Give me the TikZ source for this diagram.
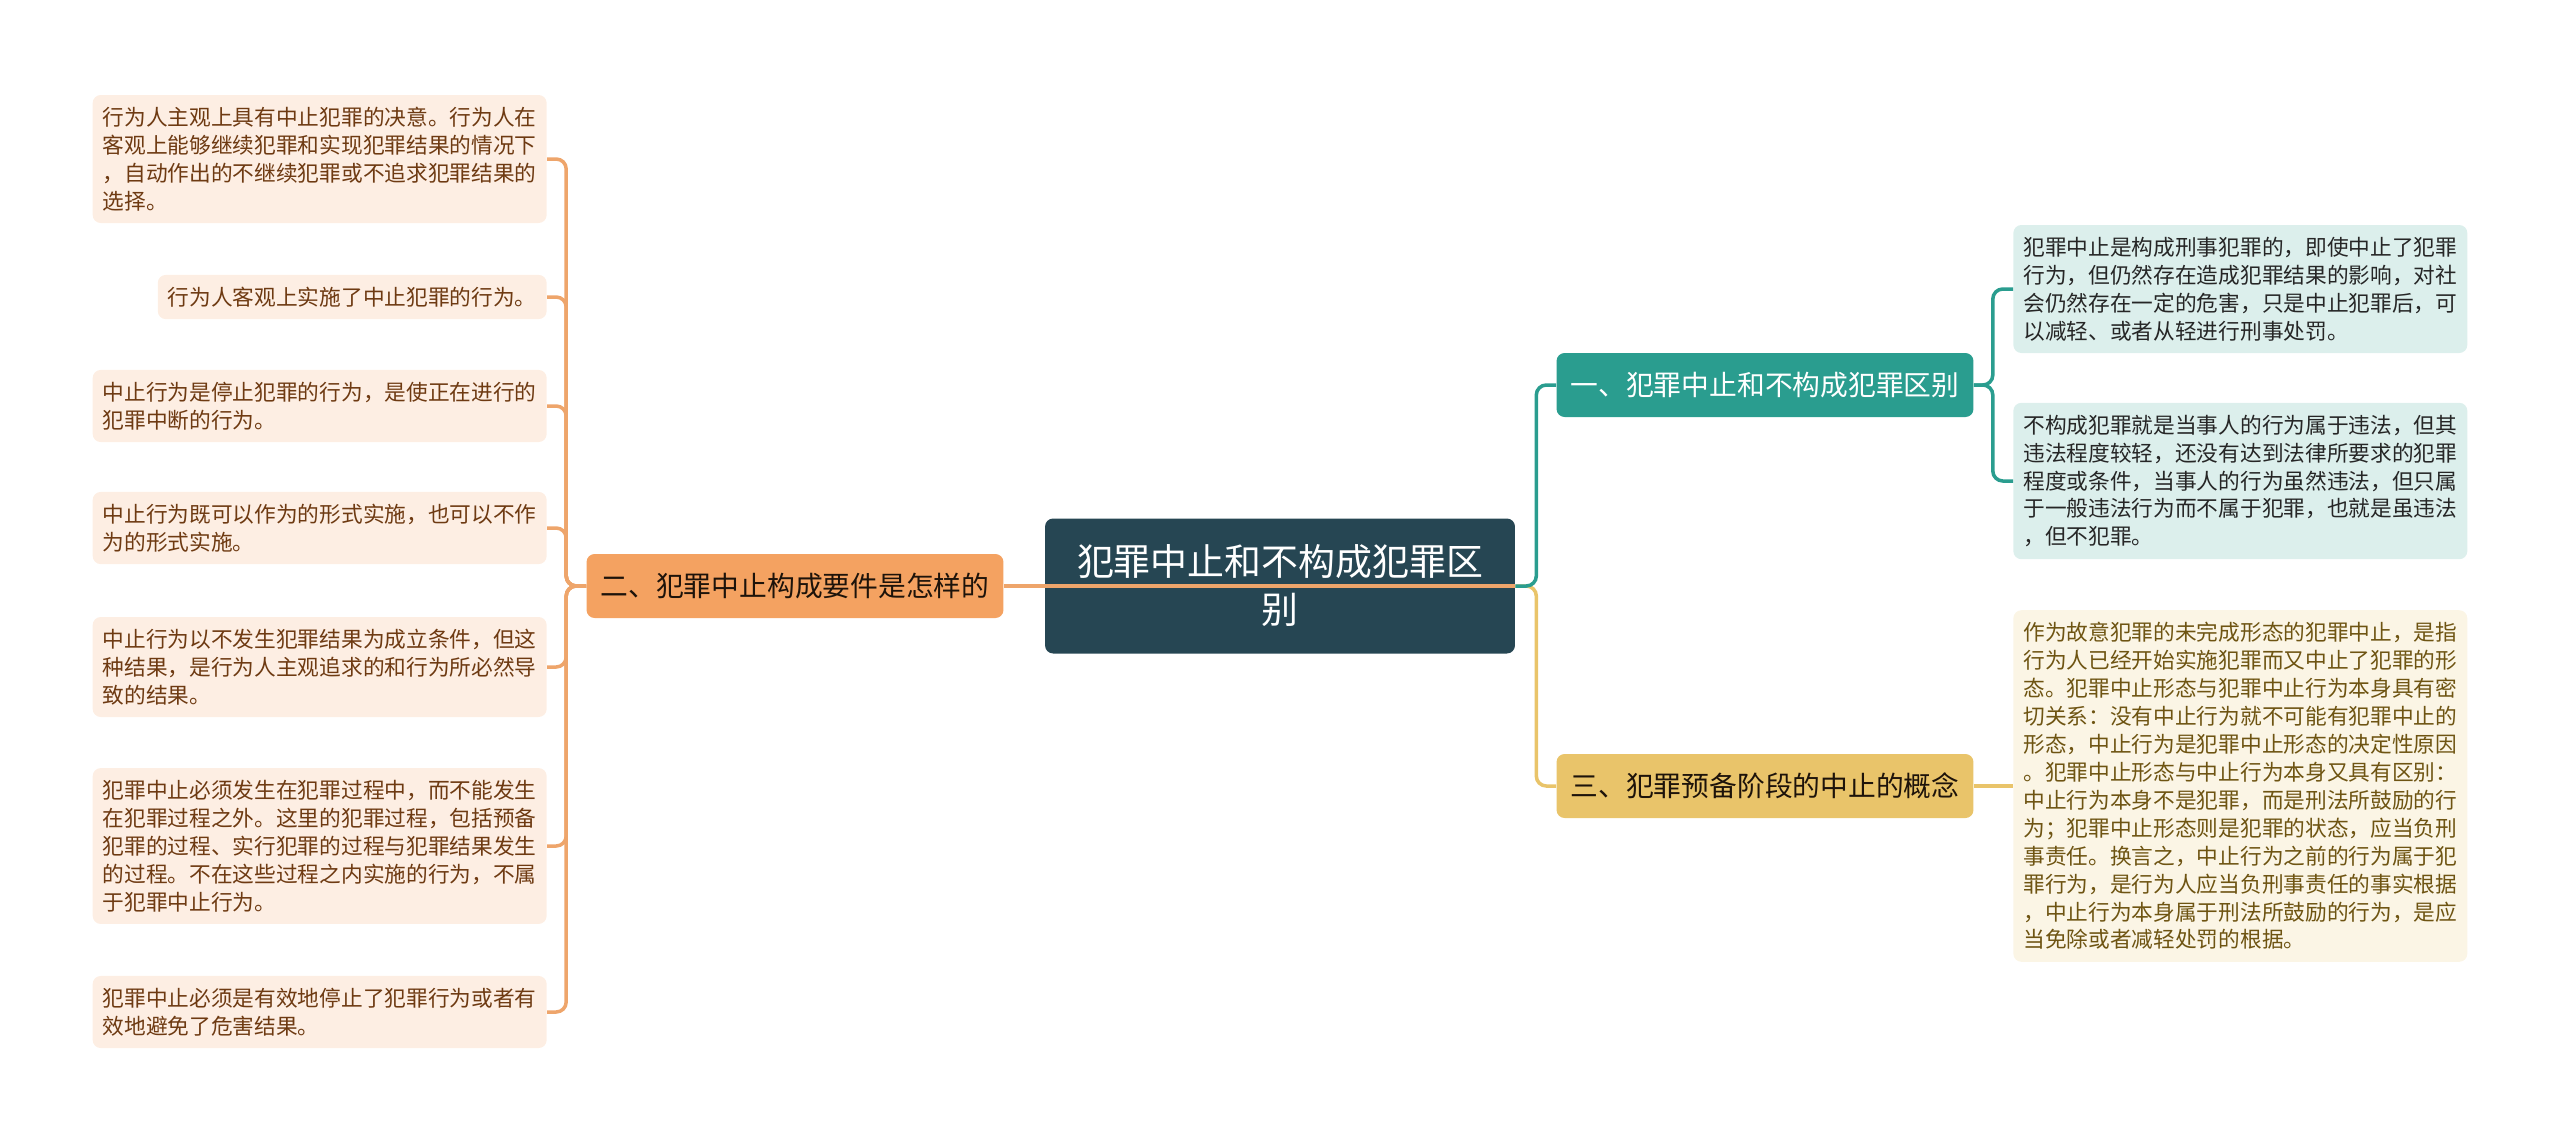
\documentclass[tikz,border=0pt]{standalone}
\usepackage{fontspec}
\setmainfont{Noto Sans CJK SC}
\definecolor{rootfill}{HTML}{264653}
\definecolor{tealfill}{HTML}{2A9D8F}
\definecolor{yellowfill}{HTML}{E9C46A}
\definecolor{orangefill}{HTML}{F4A261}
\definecolor{orangeline}{HTML}{EEA56B}
\definecolor{leafofill}{HTML}{FDEEE3}
\definecolor{leaftfill}{HTML}{DCEFEC}
\definecolor{leafyfill}{HTML}{FBF5E5}
\definecolor{leafotext}{HTML}{6E3A12}
\definecolor{leafttext}{HTML}{262626}
\definecolor{leafytext}{HTML}{6E5412}
\tikzset{
  leaf/.style={rounded corners=0.16cm, inner xsep=0.2cm, inner ysep=0.24cm,
    align=left, font=\fontsize{12.35}{15.9}\selectfont},
  leafO/.style={leaf, fill=leafofill, text=leafotext, anchor=east},
  leafT/.style={leaf, fill=leaftfill, text=leafttext, anchor=west},
  leafY/.style={leaf, fill=leafyfill, text=leafytext, anchor=west},
  branch/.style={rounded corners=0.16cm, minimum width=8.34cm, minimum height=1.28cm,
    inner sep=0pt, font=\fontsize{15.8}{19}\selectfont},
  link/.style={line width=2pt, rounded corners=0.2cm},
}
\begin{document}
\begin{tikzpicture}[x=0.02cm, y=-0.02cm]
  \useasboundingbox (0,0) rectangle (2560,1144);
  \node[rounded corners=0.16cm, fill=rootfill, text=white, minimum width=9.4cm,
    minimum height=2.7cm, align=center, font=\fontsize{21}{27.3}\selectfont]
    (root) at (1280,586) {犯罪中止和不构成犯罪区\\别};
  \node[branch, fill=orangefill, text=black!85!brown] (b2) at (795,586) {二、犯罪中止构成要件是怎样的};
  \node[branch, fill=tealfill, text=white] (b1) at (1765,385) {一、犯罪中止和不构成犯罪区别};
  \node[branch, fill=yellowfill, text=black!85!brown] (b3) at (1765,786) {三、犯罪预备阶段的中止的概念};
  \node[leafO] (l1) at (547,159) {行为人主观上具有中止犯罪的决意。行为人在\\客观上能够继续犯罪和实现犯罪结果的情况下\\，自动作出的不继续犯罪或不追求犯罪结果的\\选择。};
  \node[leafO] (l2) at (547,297) {行为人客观上实施了中止犯罪的行为。};
  \node[leafO] (l3) at (547,406) {中止行为是停止犯罪的行为，是使正在进行的\\犯罪中断的行为。};
  \node[leafO] (l4) at (547,528) {中止行为既可以作为的形式实施，也可以不作\\为的形式实施。};
  \node[leafO] (l5) at (547,667) {中止行为以不发生犯罪结果为成立条件，但这\\种结果，是行为人主观追求的和行为所必然导\\致的结果。};
  \node[leafO] (l6) at (547,846) {犯罪中止必须发生在犯罪过程中，而不能发生\\在犯罪过程之外。这里的犯罪过程，包括预备\\犯罪的过程、实行犯罪的过程与犯罪结果发生\\的过程。不在这些过程之内实施的行为，不属\\于犯罪中止行为。};
  \node[leafO] (l7) at (547,1012) {犯罪中止必须是有效地停止了犯罪行为或者有\\效地避免了危害结果。};
  \node[leafT] (r1) at (2013,289) {犯罪中止是构成刑事犯罪的，即使中止了犯罪\\行为，但仍然存在造成犯罪结果的影响，对社\\会仍然存在一定的危害，只是中止犯罪后，可\\以减轻、或者从轻进行刑事处罚。};
  \node[leafT] (r2) at (2013,481) {不构成犯罪就是当事人的行为属于违法，但其\\违法程度较轻，还没有达到法律所要求的犯罪\\程度或条件，当事人的行为虽然违法，但只属\\于一般违法行为而不属于犯罪，也就是虽违法\\，但不犯罪。};
  \node[leafY] (r3) at (2013,786) {作为故意犯罪的未完成形态的犯罪中止，是指\\行为人已经开始实施犯罪而又中止了犯罪的形\\态。犯罪中止形态与犯罪中止行为本身具有密\\切关系：没有中止行为就不可能有犯罪中止的\\形态，中止行为是犯罪中止形态的决定性原因\\。犯罪中止形态与中止行为本身又具有区别：\\中止行为本身不是犯罪，而是刑法所鼓励的行\\为；犯罪中止形态则是犯罪的状态，应当负刑\\事责任。换言之，中止行为之前的行为属于犯\\罪行为，是行为人应当负刑事责任的事实根据\\，中止行为本身属于刑法所鼓励的行为，是应\\当免除或者减轻处罚的根据。};
  \begin{scope}[link, draw=orangeline]
    \draw (root.east) -- (b2.east);
    \foreach \n in {l1,l2,l3,l4,l5,l6,l7}
      \draw (b2.west) -- ++(-20,0) |- (\n.east);
  \end{scope}
  \begin{scope}[link, draw=yellowfill]
    \draw (root.east) -- ++(21,0) |- (b3.west);
    \draw (b3.east) -- (r3.west);
  \end{scope}
  \begin{scope}[link, draw=tealfill]
    \draw (root.east) -- ++(21,0) |- (b1.west);
    \draw (b1.east) -- ++(19,0) |- (r1.west);
    \draw (b1.east) -- ++(19,0) |- (r2.west);
  \end{scope}
\end{tikzpicture}
\end{document}
